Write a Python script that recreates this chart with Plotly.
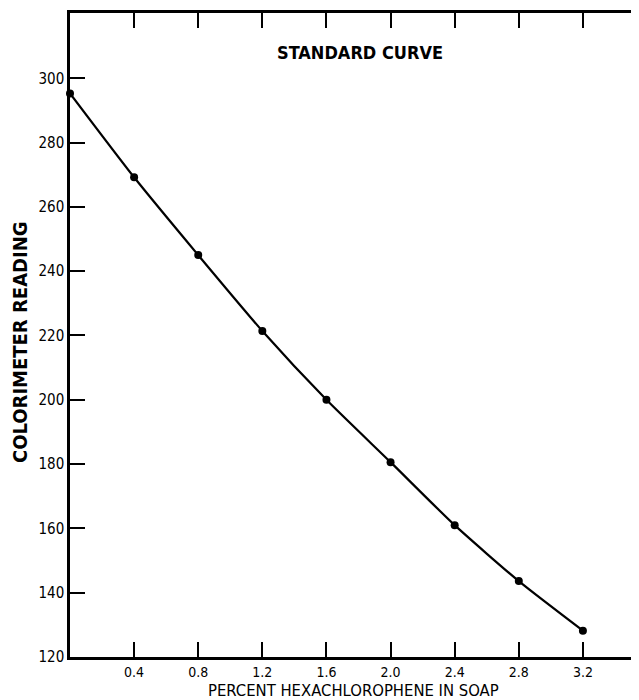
import plotly.graph_objects as go

percent = [0.0, 0.4, 0.8, 1.2, 1.6, 2.0, 2.4, 2.8, 3.2]
reading = [295.3, 269.2, 245.0, 221.4, 200.0, 180.6, 161.0, 143.6, 128.2]

x_ticks = [0.4, 0.8, 1.2, 1.6, 2.0, 2.4, 2.8, 3.2]
x_tick_labels = ["0.4", "0.8", "1.2", "1.6", "2.0", "2.4", "2.8", "3.2"]
y_ticks = [120, 140, 160, 180, 200, 220, 240, 260, 280, 300]
y_tick_labels = [str(v) for v in y_ticks]

# page has an 8px body margin; size the figure so it fits the 639x700 window
OFF = 8
W, H = 639 - OFF, 700 - OFF
L, R, T, B = 70 - OFF, 0, 13 - OFF, 700 - 657
PW, PH = W - L - R, H - T - B


def px(xp):
    return (xp - OFF - L) / PW


def py(yp):
    return 1 - (yp - OFF - T) / PH


x_tick_font = dict(family="Liberation Sans Narrow, DejaVu Sans Condensed, DejaVu Sans, sans-serif",
                   size=14, color="black")
y_tick_font = dict(family="Liberation Sans Narrow, DejaVu Sans Condensed, DejaVu Sans, sans-serif",
                   size=15, color="black")

fig = go.Figure()
fig.add_trace(go.Scatter(
    x=percent, y=reading, mode="lines+markers",
    line=dict(color="black", width=2.2, shape="spline", smoothing=0.6),
    marker=dict(color="black", size=8),
    showlegend=False, cliponaxis=False,
))
fig.add_trace(go.Scatter(x=[percent[0]], y=[reading[0]], yaxis="y2",
                         mode="markers", marker=dict(opacity=0), showlegend=False,
                         hoverinfo="skip"))

fig.update_layout(
    width=W, height=H,
    margin=dict(l=L, r=R, t=T, b=B, autoexpand=False),
    paper_bgcolor="white", plot_bgcolor="white",
    xaxis=dict(range=[0, 3.55], tickvals=x_ticks, ticktext=x_tick_labels,
               ticks="inside", ticklen=15, tickwidth=2, tickcolor="black",
               showline=True, linecolor="black", linewidth=2.5, mirror="ticks",
               showgrid=False, zeroline=False, tickfont=x_tick_font, automargin=False),
    yaxis=dict(range=[120, 320.3], tickvals=y_ticks, ticktext=y_tick_labels,
               ticks="inside", ticklen=15, tickwidth=2, tickcolor="black",
               showline=True, linecolor="black", linewidth=2.5,
               showgrid=False, zeroline=False, tickfont=y_tick_font, automargin=False),
    yaxis2=dict(range=[120, 320.3], overlaying="y", side="right",
                tickvals=y_ticks[1:], ticks="inside", ticklen=7, tickwidth=2,
                tickcolor="black", showticklabels=False, showline=False,
                showgrid=False, zeroline=False, automargin=False),
    annotations=[
        dict(text="<b>STANDARD CURVE</b>", xref="paper", yref="paper",
             x=px(360), y=py(52),
             showarrow=False, xanchor="center", yanchor="middle",
             font=dict(family="DejaVu Sans Condensed, DejaVu Sans, sans-serif", size=18, color="black")),
        dict(text="<b>COLORIMETER READING</b>", xref="paper", yref="paper",
             x=px(20), y=py(342),
             textangle=-90, showarrow=False, xanchor="center", yanchor="middle",
             font=dict(family="DejaVu Sans Condensed, DejaVu Sans, sans-serif", size=20, color="black")),
        dict(text="PERCENT HEXACHLOROPHENE IN SOAP", xref="paper", yref="paper",
             x=px(353), y=py(690), borderpad=0,
             showarrow=False, xanchor="center", yanchor="middle",
             font=dict(family="DejaVu Sans Condensed, DejaVu Sans, sans-serif", size=16.5, color="black")),
    ],
)

fig.write_html("out.html")
